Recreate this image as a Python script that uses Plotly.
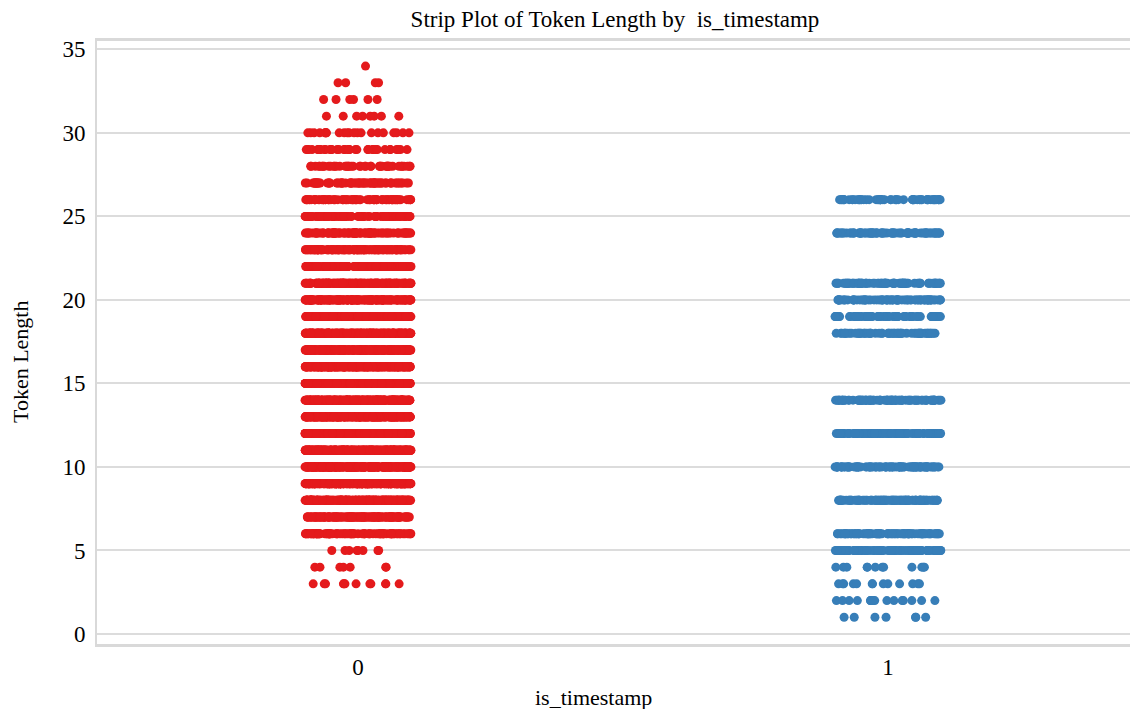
import plotly.graph_objects as go

# Token length counts per is_timestamp group
lengths_ts0 = [3, 4, 5, 6, 7, 8, 9, 10, 11, 12, 13, 14, 15, 16, 17, 18, 19, 20,
               21, 22, 23, 24, 25, 26, 27, 28, 29, 30, 31, 32, 33, 34]
counts_ts0 = [12, 7, 8, 80, 150, 250, 300, 350, 400, 400, 400, 380, 350, 320, 300,
              260, 220, 200, 170, 140, 120, 100, 90, 80, 70, 45, 35, 22, 8, 6, 4, 1]

lengths_ts1 = [1, 2, 3, 4, 5, 6, 8, 10, 12, 14, 18, 19, 20, 21, 24, 26]
counts_ts1 = [7, 16, 13, 12, 80, 80, 100, 100, 100, 100, 60, 60, 80, 80, 80, 60]

groups = [0, 1]
colors = ["#e41a1c", "#377eb8"]

FONT = "Liberation Serif"


def expand(lengths, counts):
    vals = []
    for v, c in zip(lengths, counts):
        vals.extend([v] * c)
    return vals


fig = go.Figure()
for g, lens, cnts, col in [(0, lengths_ts0, counts_ts0, colors[0]),
                           (1, lengths_ts1, counts_ts1, colors[1])]:
    ys = expand(lens, cnts)
    fig.add_trace(go.Box(
        x=[g] * len(ys),
        y=ys,
        boxpoints="all",
        jitter=1,
        pointpos=0,
        width=0.2,
        fillcolor="rgba(0,0,0,0)",
        line=dict(color="rgba(0,0,0,0)", width=0),
        marker=dict(color=col, size=9, line=dict(width=0)),
        hoveron="points",
        showlegend=False,
    ))

fig.update_layout(
    width=1130,
    height=709,
    margin=dict(l=97, r=0, t=41, b=65, autoexpand=False),
    paper_bgcolor="white",
    plot_bgcolor="white",
    font=dict(family=FONT, color="black"),
    title=dict(text="Strip Plot of Token Length by  is_timestamp",
               x=615 / 1130, xanchor="center", xref="container",
               y=1 - 19 / 709, yanchor="middle", yref="container",
               font=dict(family=FONT, size=23, color="black")),
    annotations=[
        dict(text="is_timestamp", xref="paper", yref="paper",
             x=(593 - 97) / 1033, y=-(697 - 644) / 603,
             xanchor="center", yanchor="middle", showarrow=False,
             font=dict(family=FONT, size=22, color="black")),
        dict(text="Token Length", xref="paper", yref="paper",
             x=-(97 - 20) / 1033, y=(644 - 362) / 603, textangle=-90,
             xanchor="center", yanchor="middle", showarrow=False,
             font=dict(family=FONT, size=22, color="black")),
    ],
)

fig.update_xaxes(
    range=[-0.4925, 1.4566],
    tickvals=groups,
    ticktext=[str(g) for g in groups],
    tickfont=dict(size=23, family=FONT),
    showgrid=False,
    zeroline=False,
    showline=True,
    mirror=True,
    linecolor="#d9d9d9",
    linewidth=3,
    ticks="",
    ticklabelstandoff=0,
    automargin=False,
)
fig.update_yaxes(
    range=[-0.6, 35.5],
    tickvals=[0, 5, 10, 15, 20, 25, 30, 35],
    tickfont=dict(size=23, family=FONT),
    showgrid=True,
    gridcolor="#dcdcdc",
    gridwidth=2,
    zeroline=False,
    showline=True,
    linecolor="#d9d9d9",
    linewidth=2,
    ticks="",
    ticklabelstandoff=5,
    automargin=False,
)

fig.write_html("out.html")
